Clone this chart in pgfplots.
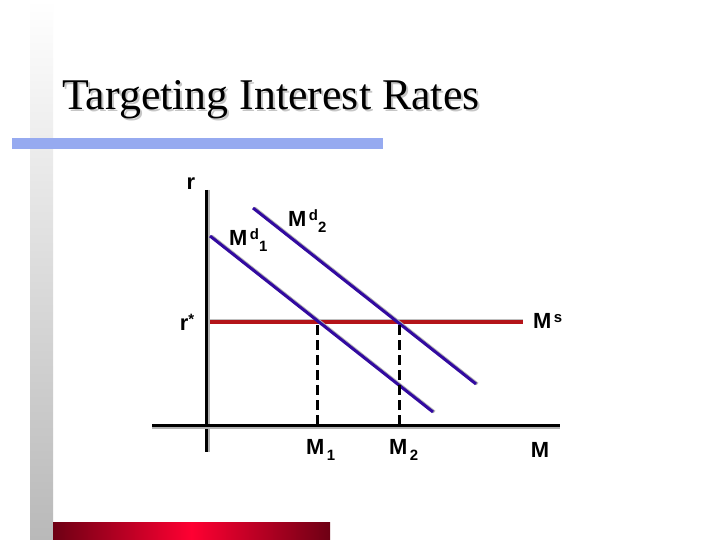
\documentclass[border=0pt]{standalone}
\usepackage{pgfplots}
\usepackage{pgfplotstable}
\pgfplotsset{compat=1.18}
\usepackage{fontspec}
\setmainfont{Liberation Serif}
\newfontfamily\lab{Liberation Sans}
\definecolor{demand}{RGB}{50,10,160}
\definecolor{supply}{RGB}{180,20,25}
\definecolor{titlebar}{RGB}{150,170,240}
\definecolor{barred}{RGB}{255,0,50}
\definecolor{bardark}{RGB}{110,0,20}

% shapes of the diagram, in pixel units of the slide
\pgfplotstableread{
x y
210 236
433 412
}\mdone
\pgfplotstableread{
x y
253 208
476 384
}\mdtwo
\pgfplotstableread{
x y
210 322
523 322
}\msupply

\tikzset{lbl/.style={font=\lab\bfseries\fontsize{22}{24}\selectfont, inner sep=0pt}}
\newcommand{\scr}{\fontsize{15}{16}\selectfont}
\newcommand{\sublab}[3]{#1\raisebox{0.55ex}{\scr\,#2}\raisebox{-0.45ex}{\scr #3}}
\newcommand{\shadowed}[1]{\makebox[0pt][l]{\hspace{2bp}\raisebox{-2bp}{\color{gray!45}#1}}#1}

\begin{document}
\begin{tikzpicture}
\begin{axis}[
  scale only axis, width=720bp, height=540bp,
  xmin=0, xmax=720, ymin=0, ymax=540, y dir=reverse,
  hide axis, clip=false,
]
% slide decoration
\fill[white] (axis cs:0,0) rectangle (axis cs:720,540);
\shade[top color=white, bottom color=gray!55] (axis cs:30,0) rectangle (axis cs:53,540);
\fill[titlebar] (axis cs:12,138) rectangle (axis cs:383,149);
\shade[left color=bardark, right color=barred] (axis cs:53,522) rectangle (axis cs:192,540);
\shade[left color=barred, right color=bardark] (axis cs:191,522) rectangle (axis cs:330,540);

\node[anchor=base west, inner sep=0pt, font=\fontsize{44}{48}\selectfont] at (axis cs:62,110) {\shadowed{Targeting Interest Rates}};

% axes of the diagram
\addplot[gray!60, line width=3bp] coordinates {(208,190) (208,452)};
\addplot[black, line width=3bp] coordinates {(206,190) (206,452)};
\addplot[gray!60, line width=3bp] coordinates {(152,427) (560,427)};
\addplot[black, line width=3bp] coordinates {(152,425) (560,425)};

% money supply at the target rate
\addplot[gray!50, line width=2.5bp] table[y expr=\thisrow{y}-2] {\msupply};
\addplot[supply, line width=3.5bp] table {\msupply};

% money demand curves
\addplot[gray!60, line width=3bp] table[x expr=\thisrow{x}+1.5] {\mdone};
\addplot[demand, line width=3bp] table {\mdone};
\addplot[gray!60, line width=3bp] table[x expr=\thisrow{x}+1.5] {\mdtwo};
\addplot[demand, line width=3bp] table {\mdtwo};

% quantities supplied
\addplot[black, line width=3bp, dash pattern=on 10bp off 5bp] coordinates {(317,325) (317,425)};
\addplot[black, line width=3bp, dash pattern=on 10bp off 5bp] coordinates {(399,325) (399,425)};

% labels
\node[lbl] at (axis cs:191,184) {r};
\node[lbl] at (axis cs:187,322) {r\raisebox{0.5ex}{\scr*}};
\node[lbl, anchor=west] at (axis cs:229,240) {\sublab{M}{d}{1}};
\node[lbl, anchor=west] at (axis cs:288,221) {\sublab{M}{d}{2}};
\node[lbl, anchor=west] at (axis cs:533,321) {M\raisebox{0.5ex}{\scr\,s}};
\node[lbl, anchor=west] at (axis cs:306,450) {\sublab{M}{}{1}};
\node[lbl, anchor=west] at (axis cs:389,450) {\sublab{M}{}{2}};
\node[lbl] at (axis cs:540,450) {M};
\end{axis}
\end{tikzpicture}
\end{document}
